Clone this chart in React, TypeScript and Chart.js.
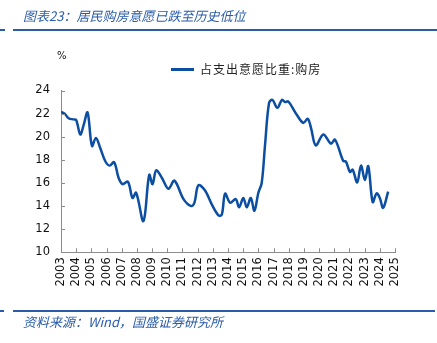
import React, { useEffect, useRef } from "react";
import { Chart, registerables } from "chart.js";

Chart.register(...registerables);

const titleText = "图表23：居民购房意愿已跌至历史低位";
const sourceText = "资料来源：Wind，国盛证券研究所";
const seriesName = "占支出意愿比重:购房";
const unitLabel = "%";

const years = [
  2003.0, 2003.24, 2003.5, 2003.83, 2004.0, 2004.27, 2004.49, 2004.75,
  2005.04, 2005.3, 2005.59, 2005.91, 2006.2, 2006.5, 2006.79, 2007.05,
  2007.41, 2007.71, 2007.95, 2008.43, 2008.81, 2009.03, 2009.27, 2009.64,
  2010.08, 2010.47, 2011.07, 2011.57, 2011.79, 2012.05, 2012.49, 2012.93,
  2013.37, 2013.59, 2013.81, 2014.14, 2014.51, 2014.73, 2015.01, 2015.24,
  2015.5, 2015.74, 2016.0, 2016.22, 2016.44, 2016.7, 2016.92, 2017.25,
  2017.56, 2017.76, 2017.97, 2018.53, 2018.96, 2019.25, 2019.47, 2019.78,
  2020.28, 2020.78, 2021.05, 2021.59, 2021.77, 2022.03, 2022.21, 2022.51,
  2022.76, 2023.02, 2023.24, 2023.53, 2023.79, 2024.0, 2024.22, 2024.55,
];

const values = [
  22.14, 22.0, 21.6, 21.5, 21.45, 20.2, 21.0, 22.1,
  19.2, 19.9, 19.0, 17.9, 17.5, 17.8, 16.45, 15.9,
  16.1, 14.7, 15.15, 12.7, 16.7, 15.9, 17.1, 16.45,
  15.5, 16.2, 14.6, 14.0, 14.3, 15.8, 15.35, 14.15,
  13.2, 13.25, 15.07, 14.3, 14.6, 13.9, 14.7, 13.9,
  14.7, 13.6, 15.15, 16.0, 19.3, 22.9, 23.2, 22.5,
  23.2, 23.0, 23.05, 21.9, 21.2, 21.55, 20.75, 19.25,
  20.2, 19.4, 19.75, 17.9, 17.85, 16.95, 17.15, 16.05,
  17.5, 16.25, 17.45, 14.35, 15.1, 14.7, 13.85, 15.25,
];

const xTickYears = [
  2003, 2004, 2005, 2006, 2007, 2008, 2009, 2010, 2011, 2012, 2013, 2014,
  2015, 2016, 2017, 2018, 2019, 2020, 2021, 2022, 2023, 2024, 2025,
];
const yTickValues = [10, 12, 14, 16, 18, 20, 22, 24];

const BLUE = "#0b4ea2";
const AXIS = "#8c8c8c";

export default function App() {
  const ref = useRef<HTMLCanvasElement>(null);

  useEffect(() => {
    const canvas = ref.current;
    if (!canvas) return;

    const insideTicks = {
      id: "insideTicks",
      afterDraw(chart: any) {
        const { ctx, chartArea, scales } = chart;
        ctx.save();
        ctx.strokeStyle = AXIS;
        ctx.lineWidth = 1;
        xTickYears.forEach((v) => {
          const px = Math.round(scales.x.getPixelForValue(v)) + 0.5;
          ctx.beginPath();
          ctx.moveTo(px, chartArea.bottom);
          ctx.lineTo(px, chartArea.bottom - 4);
          ctx.stroke();
        });
        yTickValues.forEach((v) => {
          const py = Math.round(scales.y.getPixelForValue(v)) + 0.5;
          ctx.beginPath();
          ctx.moveTo(chartArea.left, py);
          ctx.lineTo(chartArea.left + 4, py);
          ctx.stroke();
        });
        ctx.restore();
      },
    };

    const tickFont = { family: "'DejaVu Sans', sans-serif", size: 11.5 };

    const chart = new Chart(canvas, {
      type: "line",
      data: {
        datasets: [
          {
            label: seriesName,
            data: years.map((x, i) => ({ x, y: values[i] })),
            borderColor: BLUE,
            backgroundColor: BLUE,
            borderWidth: 2.5,
            pointRadius: 0,
            tension: 0.35,
            fill: false,
          },
        ],
      },
      options: {
        responsive: false,
        animation: false,
        layout: { padding: { left: 0, right: 42, top: 90.5, bottom: 0 } },
        plugins: {
          legend: { display: false },
          tooltip: { enabled: false },
        },
        scales: {
          x: {
            type: "linear",
            min: 2003,
            max: 2025,
            afterBuildTicks: (scale: any) => {
              scale.ticks = xTickYears.map((v) => ({ value: v }));
            },
            afterFit: (scale: any) => {
              scale.height = 90.7;
            },
            ticks: {
              autoSkip: false,
              minRotation: 90,
              maxRotation: 90,
              padding: 5,
              color: "#111",
              font: tickFont,
              callback: (v: any) => String(v),
            },
            grid: { display: true, drawOnChartArea: false, drawTicks: false },
            border: { display: true, color: AXIS, width: 1 },
          },
          y: {
            min: 10,
            max: 24,
            afterBuildTicks: (scale: any) => {
              scale.ticks = yTickValues.map((v) => ({ value: v }));
            },
            afterFit: (scale: any) => {
              scale.width = 61;
            },
            ticks: {
              padding: 11,
              color: "#111",
              font: tickFont,
              callback: (v: any) => String(v),
            },
            grid: { display: true, drawOnChartArea: false, drawTicks: false },
            border: { display: true, color: AXIS, width: 1 },
          },
        },
      },
      plugins: [insideTicks],
    } as any);

    return () => chart.destroy();
  }, []);

  const cjk = "'Noto Sans CJK SC', 'DejaVu Sans', sans-serif";

  return (
    <div
      style={{
        position: "fixed",
        left: 0,
        top: 0,
        width: 437,
        height: 343,
        background: "#fff",
        overflow: "hidden",
      }}
    >
      <canvas
        ref={ref}
        width={437}
        height={343}
        style={{ position: "absolute", left: 0, top: 0, width: 437, height: 343 }}
      />
      <div
        style={{
          position: "absolute",
          left: 23,
          top: 7,
          fontFamily: cjk,
          fontStyle: "italic",
          fontSize: 13,
          lineHeight: "18px",
          color: "#2a5caa",
          whiteSpace: "nowrap",
        }}
      >
        {titleText}
      </div>
      <div style={{ position: "absolute", left: 0, top: 29, width: 5, height: 2, background: "#2a5caa" }} />
      <div style={{ position: "absolute", left: 13, top: 29, width: 424, height: 2, background: "#2a5caa" }} />
      <div
        style={{
          position: "absolute",
          left: 57,
          top: 49,
          fontFamily: "'DejaVu Sans', sans-serif",
          fontSize: 10,
          lineHeight: "14px",
          color: "#111",
        }}
      >
        {unitLabel}
      </div>
      <div
        style={{
          position: "absolute",
          left: 171,
          top: 61,
          display: "flex",
          alignItems: "center",
          whiteSpace: "nowrap",
        }}
      >
        <span style={{ display: "inline-block", width: 23, height: 3, background: BLUE, marginRight: 6 }} />
        <span
          style={{
            fontFamily: cjk,
            fontSize: 12,
            lineHeight: "16px",
            color: "#222",
            letterSpacing: 1,
          }}
        >
          {seriesName}
        </span>
      </div>
      <div style={{ position: "absolute", left: 0, top: 310, width: 4, height: 2, background: "#2a5caa" }} />
      <div style={{ position: "absolute", left: 13, top: 310, width: 422, height: 2, background: "#2a5caa" }} />
      <div
        style={{
          position: "absolute",
          left: 23,
          top: 313,
          fontFamily: cjk,
          fontStyle: "italic",
          fontSize: 13,
          lineHeight: "17px",
          color: "#2a5caa",
          whiteSpace: "nowrap",
        }}
      >
        {sourceText}
      </div>
    </div>
  );
}
